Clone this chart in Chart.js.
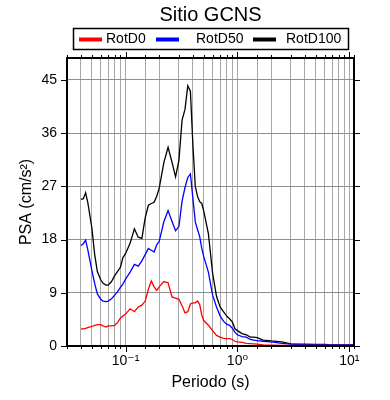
<!DOCTYPE html>
<html>
<head>
<meta charset="utf-8">
<script src="https://cdn.jsdelivr.net/npm/chart.js@4.4.0/dist/chart.umd.min.js"></script>
<style>
    body { margin: 0; background: #fff; }
    #wrap { width: 390px; height: 400px; }
</style>
</head>
<body>
<div id="wrap"><canvas id="myChart"></canvas></div>
<script>
// period (s)
var periods = [0.04, 0.042, 0.044, 0.046, 0.05, 0.053, 0.056, 0.06, 0.063, 0.067,
    0.07, 0.075, 0.08, 0.085, 0.09, 0.095, 0.1, 0.11, 0.12, 0.13,
    0.14, 0.15, 0.16, 0.17, 0.18, 0.19, 0.2, 0.22, 0.24, 0.26,
    0.28, 0.3, 0.32, 0.34, 0.36, 0.38, 0.4, 0.42, 0.44, 0.46,
    0.48, 0.5, 0.55, 0.6, 0.65, 0.7, 0.75, 0.8, 0.85, 0.9,
    0.95, 1.0, 1.1, 1.2, 1.3, 1.4, 1.5, 1.7, 2.0, 2.5,
    3, 4, 5, 6, 7, 8, 9, 10, 11];
var rotD0 = [2.9, 2.9, 3.0, 3.1, 3.3, 3.5, 3.6, 3.6, 3.4, 3.2,
    3.4, 3.4, 3.5, 4.0, 4.7, 5.1, 5.4, 6.3, 5.8, 6.6,
    6.9, 7.6, 9.6, 11.0, 10.0, 9.4, 10.0, 10.9, 10.7, 8.3,
    8.1, 7.9, 6.8, 5.6, 5.8, 7.1, 7.3, 7.3, 7.6, 7.0,
    5.2, 4.3, 3.5, 2.6, 1.8, 1.5, 1.3, 1.25, 1.25, 1.1,
    0.8, 0.7, 0.6, 0.45, 0.4, 0.35, 0.3, 0.2, 0.15, 0.1,
    0.1, 0.1, 0.1, 0.1, 0.1, 0.1, 0.1, 0.1, 0.1];
var rotD50 = [17.0, 17.3, 17.9, 16.3, 12.8, 10.6, 8.8, 7.9, 7.6, 7.5,
    7.6, 8.0, 8.6, 9.2, 9.9, 10.5, 11.3, 12.5, 13.8, 13.5,
    14.4, 15.5, 16.5, 16.2, 15.9, 17.1, 17.7, 21.0, 22.9, 21.1,
    19.5, 20.2, 24.5, 26.8, 28.5, 29.1, 25.0, 21.0, 19.7, 18.5,
    16.5, 15.1, 12.5, 8.6, 6.6, 5.1, 4.2, 3.7, 3.5, 3.0,
    2.3, 1.9, 1.6, 1.5, 1.1, 1.0, 0.9, 0.8, 0.7, 0.45,
    0.3, 0.2, 0.2, 0.2, 0.2, 0.2, 0.2, 0.2, 0.2];
var rotD100 = [24.8, 24.9, 25.9, 24.3, 20.0, 15.5, 12.6, 11.2, 10.6, 10.3,
    10.3, 10.9, 11.9, 12.6, 13.3, 15.0, 15.6, 17.4, 19.8, 18.4,
    18.2, 21.7, 23.8, 24.1, 24.3, 25.3, 26.7, 31.0, 33.6, 31.1,
    28.6, 31.4, 38.2, 40.0, 44.0, 43.1, 34.0, 27.0, 25.3, 24.4,
    24.1, 22.8, 19.0, 12.3, 8.4, 6.6, 5.8, 5.1, 4.6, 4.1,
    2.9, 2.6, 2.1, 1.9, 1.5, 1.5, 1.4, 1.0, 0.85, 0.7,
    0.35, 0.3, 0.25, 0.25, 0.2, 0.2, 0.2, 0.2, 0.2];
var seriesNames = ['RotD0', 'RotD50', 'RotD100'];
var seriesColors = ['#ff0000', '#0000ff', '#000000'];
var xTickValues = [0.1, 1, 10];
var xTickLabels = ['10⁻¹', '10⁰', '10¹'];
var yTickStep = 9;
var yMax = 48.7;

var FONT = "'Liberation Sans', 'DejaVu Sans', Arial, sans-serif";

function toPoints(vals) {
    return periods.map(function (p, i) { return { x: p, y: vals[i] }; });
}
function isDecade(v) {
    var l = Math.log10(v);
    return Math.abs(l - Math.round(l)) < 1e-6;
}

// frame, outward ticks, title and boxed legend
var framePlugin = {
    id: 'frame',
    afterDraw: function (chart) {
        var c = chart.ctx, a = chart.chartArea;
        var sx = chart.scales.x, sy = chart.scales.y;
        c.save();
        c.strokeStyle = '#000';
        c.lineWidth = 1;
        c.beginPath();
        sx.ticks.forEach(function (t) {
            var px = Math.round(sx.getPixelForValue(t.value)) + 0.5;
            var len = isDecade(t.value) ? 6 : 3;
            c.moveTo(px, a.bottom); c.lineTo(px, a.bottom + len);
            c.moveTo(px, a.top); c.lineTo(px, a.top - len);
        });
        sy.ticks.forEach(function (t) {
            var py = Math.round(sy.getPixelForValue(t.value)) + 0.5;
            c.moveTo(a.left, py); c.lineTo(a.left - 6, py);
            c.moveTo(a.right, py); c.lineTo(a.right + 6, py);
        });
        c.stroke();
        c.lineWidth = 2;
        c.strokeRect(a.left, a.top, a.right - a.left, a.bottom - a.top);

        c.fillStyle = '#000';
        c.textAlign = 'center';
        c.textBaseline = 'middle';
        c.font = '20px ' + FONT;
        c.fillText('Sitio GCNS', (a.left + a.right) / 2, 15);

        // legend
        c.lineWidth = 1.5;
        c.strokeRect(73.5, 28.5, 275, 21);
        var lineX = [79, 156, 253];
        var textX = [106, 196, 286];
        c.font = '14px ' + FONT;
        c.textAlign = 'left';
        chart.data.datasets.forEach(function (ds, i) {
            c.strokeStyle = ds.borderColor;
            c.lineWidth = 4;
            c.beginPath();
            c.moveTo(lineX[i], 39.5);
            c.lineTo(lineX[i] + 23, 39.5);
            c.stroke();
            c.fillText(ds.label, textX[i], 39.5);
        });
        c.restore();
    }
};

var ctx = document.getElementById('myChart');
var chart = new Chart(ctx, {
    type: 'line',
    data: {
        datasets: [
            { label: seriesNames[0], data: toPoints(rotD0), borderColor: seriesColors[0] },
            { label: seriesNames[1], data: toPoints(rotD50), borderColor: seriesColors[1] },
            { label: seriesNames[2], data: toPoints(rotD100), borderColor: seriesColors[2] },
        ],
    },
    options: {
        responsive: true,
        maintainAspectRatio: false,
        animation: false,
        layout: { padding: { left: 0, right: 36, top: 58, bottom: 0 } },
        elements: {
            point: { radius: 0 },
            line: { borderWidth: 1.3, tension: 0, fill: false },
        },
        scales: {
            x: {
                type: 'logarithmic',
                min: 0.03,
                max: 11,
                afterFit: function (s) { s.height = 54; },
                border: { display: false },
                grid: { color: '#a8a8a8', lineWidth: 1, drawTicks: false },
                ticks: {
                    autoSkip: false,
                    maxRotation: 0,
                    padding: 7,
                    color: '#000',
                    font: { family: FONT, size: 14 },
                    callback: function (v) {
                        for (var i = 0; i < xTickValues.length; i++) {
                            if (Math.abs(v - xTickValues[i]) < 1e-9 * xTickValues[i] + 1e-12) return xTickLabels[i];
                        }
                        return '';
                    },
                },
                title: {
                    display: true,
                    text: 'Periodo (s)',
                    color: '#000',
                    font: { family: FONT, size: 16 },
                    padding: { top: 0, bottom: 8 },
                },
            },
            y: {
                min: 0,
                max: yMax,
                afterFit: function (s) { s.width = 67; },
                border: { display: false },
                grid: { color: '#8f8f8f', lineWidth: 1, drawTicks: false },
                ticks: {
                    stepSize: yTickStep,
                    includeBounds: false,
                    padding: 10,
                    color: '#000',
                    font: { family: FONT, size: 14 },
                },
                title: {
                    display: true,
                    text: 'PSA (cm/s²)',
                    color: '#000',
                    font: { family: FONT, size: 16 },
                    padding: { top: 17, bottom: 0 },
                },
            },
        },
        plugins: {
            legend: { display: false },
            title: { display: false },
            tooltip: { enabled: false },
        },
    },
    plugins: [framePlugin],
});
</script>
</body>
</html>
